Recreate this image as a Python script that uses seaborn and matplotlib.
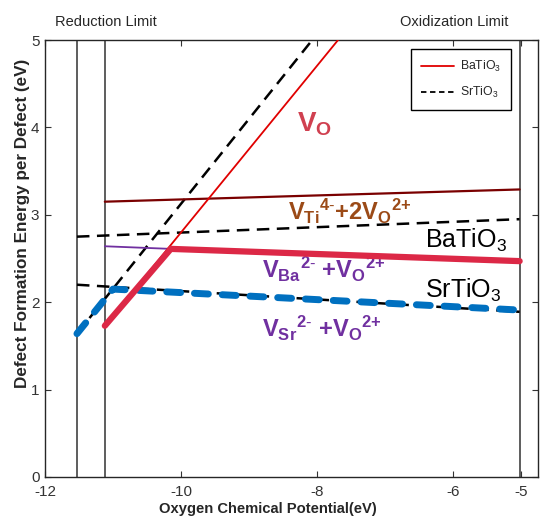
import numpy as np
import pandas as pd
import matplotlib
matplotlib.use("Agg")
import matplotlib.pyplot as plt
import seaborn as sns

# --- datos ---
lim_sr = -11.53   # limite de reduccion SrTiO3
lim_ba = -11.12   # limite de reduccion BaTiO3
lim_ox = -5.02    # limite de oxidacion

# BaTiO3
ba_vo_x = [-11.12, -7.69]
ba_vo_y = [1.73, 5.0]
ba_ti_x = [-11.12, -5.02]
ba_ti_y = [3.15, 3.29]
ba_ba_x = [-11.12, -10.15]
ba_ba_y = [2.64, 2.61]
ba_min_x = [-11.12, -10.15, -5.02]
ba_min_y = [1.73, 2.61, 2.47]

# SrTiO3
sr_vo_x = [-11.53, -8.07]
sr_vo_y = [1.64, 5.0]
sr_ti_x = [-11.53, -5.02]
sr_ti_y = [2.75, 2.95]
sr_sr_x = [-11.53, -5.02]
sr_sr_y = [2.20, 1.89]
sr_min_x = [-11.53, -11.0, -5.02]
sr_min_y = [1.64, 2.15, 1.91]

xticks = [-12, -10, -8, -6, -5]
yticks = [0, 1, 2, 3, 4, 5]

sns.set_theme(style="ticks")
plt.rcParams["font.family"] = ["Liberation Sans", "DejaVu Sans"]
plt.rcParams["mathtext.fontset"] = "custom"
plt.rcParams["mathtext.rm"] = "Liberation Sans"
plt.rcParams["mathtext.it"] = "Liberation Sans:italic"
plt.rcParams["mathtext.bf"] = "Liberation Sans:bold"
plt.rcParams["mathtext.default"] = "regular"
plt.rcParams["axes.unicode_minus"] = False

fig = plt.figure(figsize=(5.4, 5.21), dpi=100)
ax = fig.add_axes([45 / 540, 1 - 477 / 521, 493 / 540, 437 / 521])


def linea(x, y, **kw):
    df = pd.DataFrame({"x": x, "y": y})
    sns.lineplot(data=df, x="x", y="y", ax=ax, sort=False, **kw)


# lineas verticales de los limites
for xv in [lim_sr, lim_ba, lim_ox]:
    ax.axvline(xv, color="#505050", lw=1.3, zorder=1)

# SrTiO3 (negro punteado)
for x, y in [(sr_ti_x, sr_ti_y), (sr_sr_x, sr_sr_y), (sr_vo_x, sr_vo_y)]:
    linea(x, y, color="black", lw=1.8, linestyle=(0, (5, 3)), zorder=2)

# BaTiO3
linea(ba_ti_x, ba_ti_y, color="#7a0000", lw=1.6, zorder=2)
linea(ba_ba_x, ba_ba_y, color="#7030a0", lw=1.3, zorder=2)
linea(ba_vo_x, ba_vo_y, color="#e00000", lw=1.3, zorder=3)

# envolventes (minimo)
linea(sr_min_x, sr_min_y, color="#0070c0", lw=5, linestyle=(0, (2.0, 2.0)),
      dash_capstyle="round", zorder=4)
linea(ba_min_x, ba_min_y, color="#dc2846", lw=4.5, solid_capstyle="round", zorder=5)

# leyenda
ax.plot([], [], color="#e00000", lw=1.3, label="BaTiO$_3$")
ax.plot([], [], color="black", lw=1.3, linestyle=(0, (3, 2)), label="SrTiO$_3$")
leg = ax.legend(loc="upper right", bbox_to_anchor=(0.957, 0.993), fontsize=8.8,
                handlelength=2.7, handletextpad=0.5, borderpad=0.8, labelspacing=0.9,
                fancybox=False, framealpha=1, edgecolor="black")
leg.get_frame().set_linewidth(1.0)

# etiquetas de los defectos
ax.text(-8.29, 3.95, r"$\mathbf{V_{O}}$", color="#d04050", fontsize=20, va="baseline")
ax.text(-8.43, 2.94, r"$\mathbf{V_{Ti}{}^{4\text{-}}{+}2V_{O}{}^{2{+}}}$",
        color="#9b4a17", fontsize=17, va="baseline")
ax.text(-6.41, 2.62, r"BaTiO$_3$", color="black", fontsize=18, va="baseline")
ax.text(-8.81, 2.28, r"$\mathbf{V_{Ba}{}^{2\text{-}}\ {+}V_{O}{}^{2{+}}}$",
        color="#7030a0", fontsize=17, va="baseline")
ax.text(-6.41, 2.05, r"SrTiO$_3$", color="black", fontsize=18, va="baseline")
ax.text(-8.81, 1.60, r"$\mathbf{V_{Sr}{}^{2\text{-}}\ {+}V_{O}{}^{2{+}}}$",
        color="#7030a0", fontsize=17, va="baseline")

# textos de los limites
fig.text(55 / 540, 1 - 22 / 521, "Reduction Limit", fontsize=10.5, va="center")
fig.text(400 / 540, 1 - 22 / 521, "Oxidization Limit", fontsize=10.5, va="center")

ax.set_xlim(-12, -4.75)
ax.set_ylim(0, 5)
ax.set_xticks(xticks)
ax.set_yticks(yticks)
ax.tick_params(direction="in", top=True, right=True, length=4, width=0.8,
               labelsize=11, labelcolor="#333333", color="#333333")
ax.tick_params(axis="x", pad=6)
ax.tick_params(axis="y", pad=4)
for s in ax.spines.values():
    s.set_color("#262626")
    s.set_linewidth(1.0)

ax.set_xlabel("Oxygen Chemical Potential(eV)", fontsize=10.6, fontweight="bold")
ax.xaxis.set_label_coords((268 - 45) / 493, -0.058)
ax.set_ylabel("Defect Formation Energy per Defect (eV)", fontsize=12.3,
              fontweight="bold")
ax.yaxis.set_label_coords(-0.030, (477 - 223) / 437)

fig.savefig("out.png", dpi=100)
